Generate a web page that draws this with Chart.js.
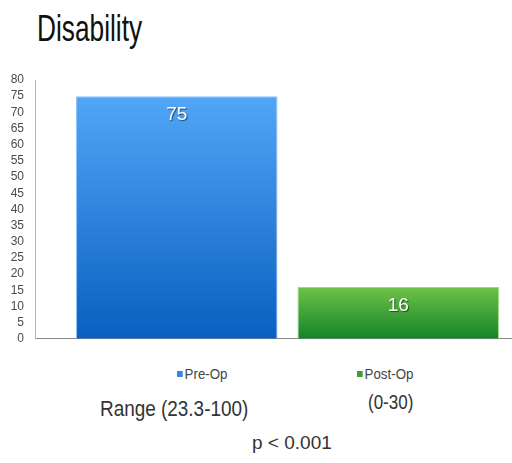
<!DOCTYPE html>
<html>
<head>
<meta charset="utf-8">
<script src="https://cdn.jsdelivr.net/npm/chart.js@4.4.1/dist/chart.umd.min.js"></script>
<style>
  html, body { margin: 0; padding: 0; background: #fff; }
  #page { position: relative; width: 512px; height: 463px; overflow: hidden; font-family: "Liberation Sans", Arial, sans-serif; }
  #title { position: absolute; left: 37px; top: 11px; font-size: 37px; line-height: 36px; color: #111; transform: scaleX(0.71); transform-origin: 0 0; white-space: nowrap; }
  #wrap { position: absolute; left: 0; top: 0; width: 540px; height: 349px; }
  .note { position: absolute; color: #333; white-space: nowrap; transform-origin: 0 0; }
  .leg { position: absolute; font-size: 14px; line-height: 14px; color: #444; white-space: nowrap; transform: scaleX(0.95); transform-origin: 0 0; }
  .leg i { display: inline-block; width: 6px; height: 6px; margin-right: 2px; vertical-align: 2px; }
</style>
</head>
<body>
<div id="page">
  <div id="title">Disability</div>
  <div id="wrap"><canvas id="chart"></canvas></div>
  <div id="legend"></div>
  <div class="note" style="left:100px; top:398px; font-size:22px; line-height:22px; transform:scaleX(0.86);">Range (23.3-100)</div>
  <div class="note" style="left:368px; top:391px; font-size:20px; line-height:22px; transform:scaleX(0.85);">(0-30)</div>
  <div class="note" style="left:252px; top:433px; font-size:19px; line-height:20px;">p &lt; 0.001</div>
</div>
<script>
// data
const categories = [''];
const seriesNames = ['Pre-Op', 'Post-Op'];
const preOp = [75];
const postOp = [16];
const yMin = 0, yMax = 80, yStep = 5;

const legendColors = ['#3585e3', '#3f9e35'];

// html legend under each bar
const legendPos = [[177, 367], [357, 367]];
seriesNames.forEach((name, i) => {
  const d = document.createElement('div');
  d.className = 'leg';
  d.style.left = legendPos[i][0] + 'px';
  d.style.top = legendPos[i][1] + 'px';
  d.innerHTML = `<i style="background:${legendColors[i]}"></i>${name}`;
  document.getElementById('legend').appendChild(d);
});

// gradient over each bar's own height
function grad(ctx, top, bottom) {
  const chart = ctx.chart;
  const area = chart.chartArea;
  if (!area || !ctx.parsed) return top;
  const yTop = chart.scales.y.getPixelForValue(ctx.parsed.y);
  const g = chart.ctx.createLinearGradient(0, yTop, 0, area.bottom);
  g.addColorStop(0, top);
  g.addColorStop(1, bottom);
  return g;
}

// white value labels inside the top of each bar
const valueLabels = {
  id: 'valueLabels',
  afterDatasetsDraw(chart) {
    const c = chart.ctx;
    c.save();
    c.font = '19px "Liberation Sans", Arial';
    c.textAlign = 'center';
    c.textBaseline = 'middle';
    c.fillStyle = '#fff';
    c.shadowColor = 'rgba(0,0,0,0.55)';
    c.shadowOffsetX = 1;
    c.shadowOffsetY = 1;
    c.shadowBlur = 1;
    chart.data.datasets.forEach((ds, i) => {
      chart.getDatasetMeta(i).data.forEach((el, j) => {
        c.fillText(ds.data[j], el.x, el.y + 19);
      });
    });
    c.restore();
  }
};

new Chart(document.getElementById('chart'), {
  type: 'bar',
  data: {
    labels: categories,
    datasets: [
      {
        label: seriesNames[0], data: preOp,
        backgroundColor: (ctx) => grad(ctx, '#52a6f7', '#0a5fc0'),
        borderColor: '#8cc3f7', borderWidth: 1,
        categoryPercentage: 0.877, barPercentage: 0.91
      },
      {
        label: seriesNames[1], data: postOp,
        backgroundColor: (ctx) => grad(ctx, '#6fc246', '#12842a'),
        borderColor: '#a2d884', borderWidth: 1,
        categoryPercentage: 0.877, barPercentage: 0.91
      }
    ]
  },
  options: {
    responsive: true, maintainAspectRatio: false, animation: false,
    layout: { padding: { top: 80, left: 0, right: 0, bottom: 0 } },
    plugins: {
      tooltip: { enabled: false },
      legend: { display: false }
    },
    scales: {
      x: {
        grid: { display: false },
        border: { display: true, color: '#8a8a8a', width: 1 },
        ticks: { display: false }
      },
      y: {
        min: yMin, max: yMax,
        grid: { display: false },
        border: { display: true, color: '#b5b5b5', width: 1 },
        ticks: {
          stepSize: yStep, padding: 3, color: '#4a4a4a', autoSkip: false,
          font: { family: '"Liberation Sans", Arial', size: 12 }
        },
        afterFit: (scale) => { scale.width = 35; }
      }
    }
  },
  plugins: [valueLabels]
});
</script>
</body>
</html>
